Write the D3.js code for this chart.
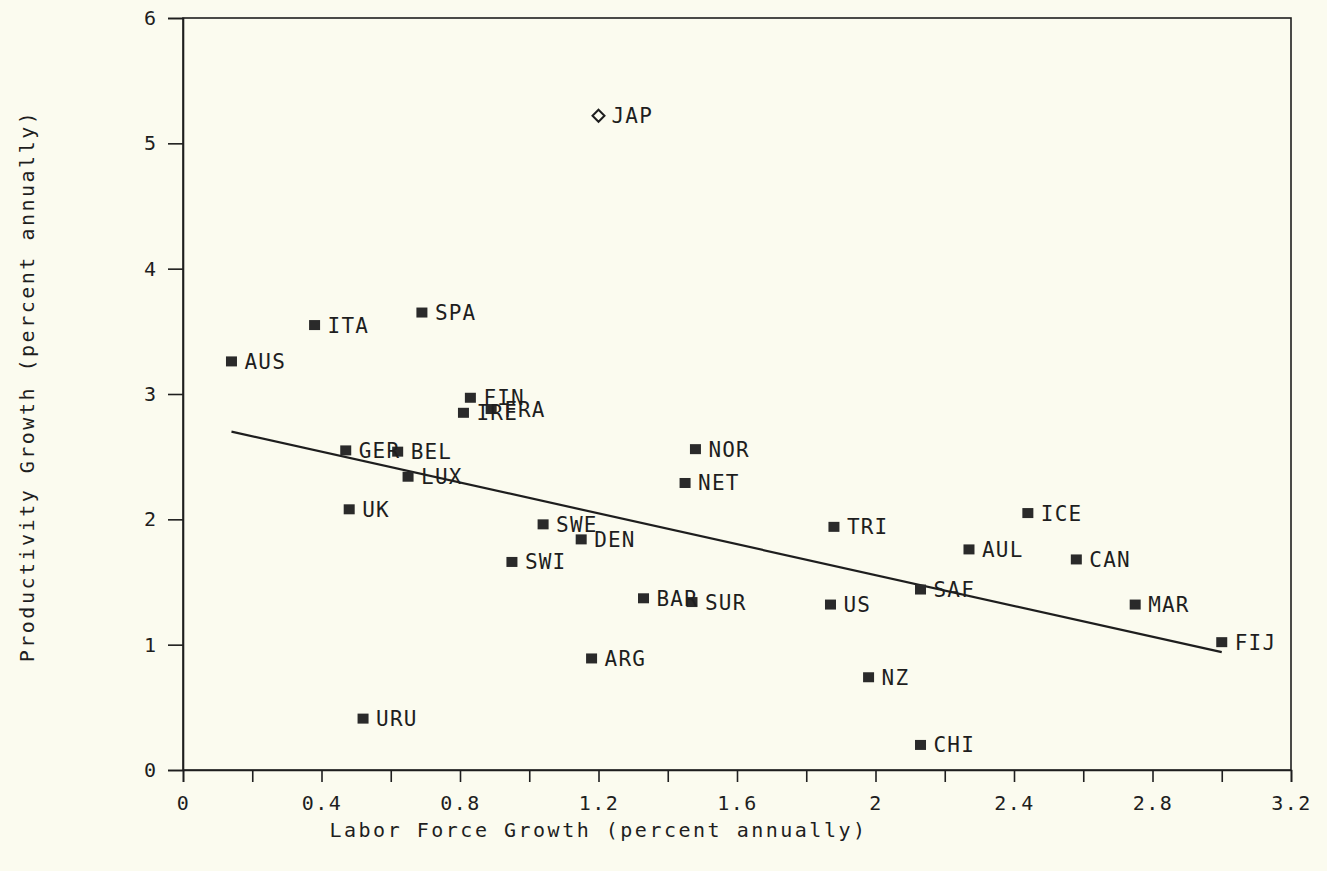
<!DOCTYPE html>
<html>
<head>
<meta charset="utf-8">
<script src="https://cdn.jsdelivr.net/npm/d3@7"></script>
<style>
  html, body { margin: 0; padding: 0; background: #fbfbef; }
  svg { display: block; }
  text { font-family: "DejaVu Sans Mono", "Liberation Mono", monospace; fill: #1e1e1e; }
</style>
</head>
<body>
<svg id="chart" width="1327" height="871"></svg>
<script>
// Country codes, labour force growth (x) and productivity growth (y), % per year
const countries = ["AUS","ITA","SPA","JAP","FIN","IRE","FRA","GER","BEL","LUX",
                   "NOR","NET","UK","SWE","DEN","SWI","BAR","SUR","ARG","URU",
                   "TRI","US","NZ","CHI","SAF","ICE","AUL","CAN","MAR","FIJ"];
const laborGrowth = [0.14, 0.38, 0.69, 1.20, 0.83, 0.81, 0.89, 0.47, 0.62, 0.65,
                     1.48, 1.45, 0.48, 1.04, 1.15, 0.95, 1.33, 1.47, 1.18, 0.52,
                     1.88, 1.87, 1.98, 2.13, 2.13, 2.44, 2.27, 2.58, 2.75, 3.00];
const productivityGrowth = [3.26, 3.55, 3.65, 5.22, 2.97, 2.85, 2.88, 2.55, 2.54, 2.34,
                            2.56, 2.29, 2.08, 1.96, 1.84, 1.66, 1.37, 1.34, 0.89, 0.41,
                            1.94, 1.32, 0.74, 0.20, 1.44, 2.05, 1.76, 1.68, 1.32, 1.02];
// Marker style: JAP is drawn as an open diamond, everything else as a filled square
const markerKind = countries.map(c => c === "JAP" ? "diamond" : "square");

// Fitted trend line endpoints
const trendX = [0.14, 3.00];
const trendY = [2.70, 0.94];

// Axis ticks
const xTicks = d3.range(0, 3.2001, 0.2);
const xTickLabels = ["0","0.4","0.8","1.2","1.6","2","2.4","2.8","3.2"];
const yTicks = [0, 1, 2, 3, 4, 5, 6];

const xTitle = "Labor Force Growth (percent annually)";
const yTitle = "Productivity Growth (percent annually)";

const svg = d3.select("#chart");
const plotLeft = 183, plotRight = 1291, plotTop = 18, plotBottom = 770;

const x = d3.scaleLinear().domain([0, 3.2]).range([plotLeft, plotRight]);
const y = d3.scaleLinear().domain([0, 6]).range([plotBottom, plotTop]);

const ink = "#1e1e1e";

// Frame
svg.append("rect")
  .attr("x", plotLeft).attr("y", plotTop)
  .attr("width", plotRight - plotLeft).attr("height", plotBottom - plotTop)
  .attr("fill", "none").attr("stroke", ink).attr("stroke-width", 1.6);

// X axis
const xAxis = d3.axisBottom(x)
  .tickValues(xTicks)
  .tickSize(12)
  .tickPadding(14)
  .tickFormat(d => {
    const k = Math.round(d * 10);
    return k % 4 === 0 ? xTickLabels[k / 4] : "";
  });
const gx = svg.append("g").attr("transform", `translate(0,${plotBottom})`).call(xAxis);
gx.select(".domain").attr("stroke", ink).attr("stroke-width", 1.6);
gx.selectAll(".tick line").attr("stroke", ink).attr("stroke-width", 1.6);
gx.selectAll(".tick text").attr("font-size", 20).attr("fill", ink)
  .attr("letter-spacing", 1.5)
  .style("font-family", '"DejaVu Sans Mono", monospace');

// Y axis
const yAxis = d3.axisLeft(y)
  .tickValues(yTicks)
  .tickSize(15)
  .tickPadding(12)
  .tickFormat(d3.format("d"));
const gy = svg.append("g").attr("transform", `translate(${plotLeft},0)`).call(yAxis);
gy.select(".domain").attr("stroke", ink).attr("stroke-width", 1.6);
gy.selectAll(".tick line").attr("stroke", ink).attr("stroke-width", 1.6);
gy.selectAll(".tick text").attr("font-size", 20).attr("fill", ink)
  .style("font-family", '"DejaVu Sans Mono", monospace');

// Trend line
svg.append("line")
  .attr("x1", x(trendX[0])).attr("y1", y(trendY[0]))
  .attr("x2", x(trendX[1])).attr("y2", y(trendY[1]))
  .attr("stroke", ink).attr("stroke-width", 2.2);

// Points and labels
const pts = countries.map((c, i) => ({
  code: c, lx: laborGrowth[i], py: productivityGrowth[i], kind: markerKind[i]
}));

const g = svg.append("g");
g.selectAll("rect.pt")
  .data(pts.filter(d => d.kind === "square"))
  .join("rect")
  .attr("class", "pt")
  .attr("x", d => x(d.lx) - 5.5).attr("y", d => y(d.py) - 5)
  .attr("width", 11).attr("height", 10)
  .attr("fill", "#2a2a2a");

g.selectAll("path.diamond")
  .data(pts.filter(d => d.kind === "diamond"))
  .join("path")
  .attr("class", "diamond")
  .attr("d", d => {
    const cx = x(d.lx), cy = y(d.py), r = 6;
    return `M${cx},${cy - r}L${cx + r},${cy}L${cx},${cy + r}L${cx - r},${cy}Z`;
  })
  .attr("fill", "none").attr("stroke", ink).attr("stroke-width", 2);

g.selectAll("text.lbl")
  .data(pts)
  .join("text")
  .attr("class", "lbl")
  .attr("x", d => x(d.lx) + 13)
  .attr("y", d => y(d.py) + 7.5)
  .attr("font-size", 21)
  .attr("letter-spacing", 1.2)
  .text(d => d.code);

// Axis titles
svg.append("text")
  .attr("x", x(1.2)).attr("y", 837)
  .attr("text-anchor", "middle")
  .attr("font-size", 20)
  .attr("letter-spacing", 2.5)
  .text(xTitle);

svg.append("text")
  .attr("transform", `translate(34,${(plotTop + plotBottom) / 2 - 8}) rotate(-90)`)
  .attr("text-anchor", "middle")
  .attr("font-size", 20)
  .attr("letter-spacing", 2.5)
  .text(yTitle);
</script>
</body>
</html>
